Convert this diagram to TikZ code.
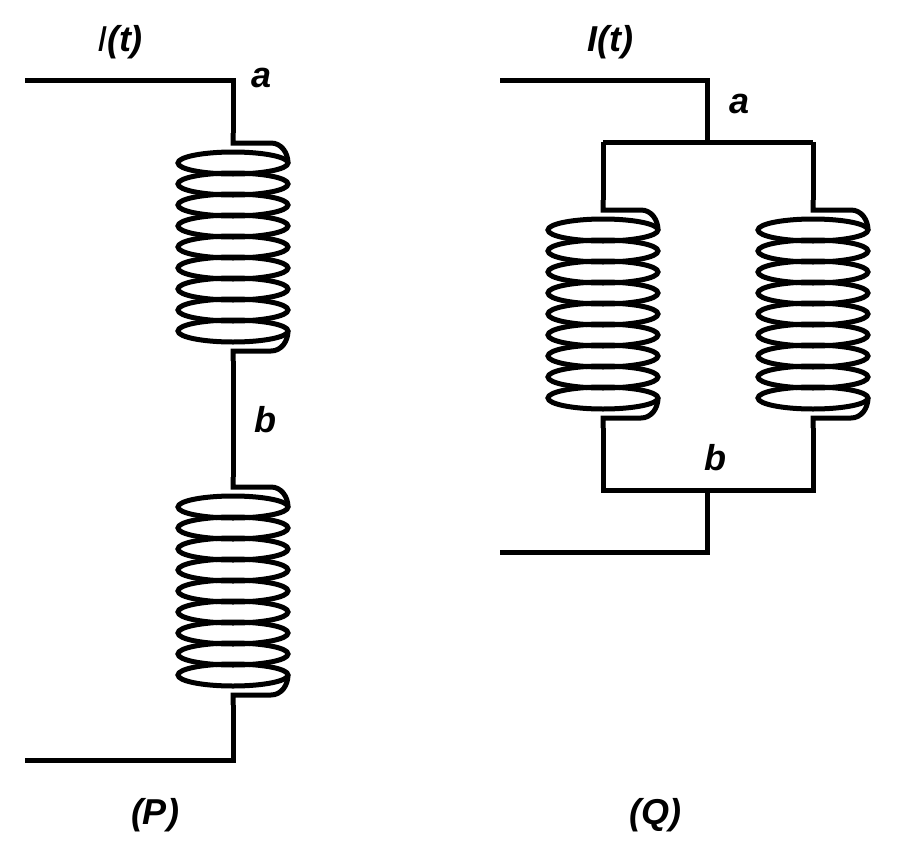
\documentclass[tikz,border=0pt]{standalone}
\usepackage{fontspec}
\setmainfont{Liberation Sans}
\newcommand{\coilat}[3]{% x, top y, name
  \draw[wire] (#1,#2-10) -- (#1,#2) -- (#1+38,#2) to[out=0,in=90] (#1+55,#2+20);
  \foreach \k in {0,...,8}
    \draw[wire] (#1,#2+20+\k*21) ellipse (55 and 11);
  \draw[wire] (#1+55,#2+188) to[out=-90,in=0] (#1+38,#2+208) -- (#1,#2+208) -- (#1,#2+218);
  \coordinate (#3top) at (#1,#2-10);
  \coordinate (#3bot) at (#1,#2+218);
}
\begin{document}
\begin{tikzpicture}[x=1pt,y=-1pt,
  wire/.style={line width=5pt},
  lab/.style={font=\fontsize{36}{40}\selectfont\bfseries\itshape}]
  \useasboundingbox (0,0) rectangle (900,852);

  % (P)
  \coordinate (p0) at (25,80);
  \coordinate (p1) at (233,80);
  \coordinate (p4) at (233,760);
  \coordinate (p5) at (25,760);
  \coilat{233}{143}{ca}
  \coilat{233}{487}{cb}
  \draw[wire] (p0) -- (p1) -- (catop);
  \draw[wire] (cabot) -- (cbtop);
  \draw[wire] (cbbot) -- (p4) -- (p5);
  \node[lab] (ip) at (120,42) {$\mathbf{\mathit{I}}$(\textit{t})};
  \node[lab] (ap) at (262,78) {a};
  \node[lab] (bp) at (265,420) {b};
  \node[lab] (np) at (155,815) {(\textit{P})};

  % (Q)
  \coordinate (q0) at (500,80);
  \coordinate (q1) at (707,80);
  \coordinate (qa) at (707,142);
  \coordinate (qal) at (603,142);
  \coordinate (qar) at (813,142);
  \coordinate (qb) at (707,490);
  \coordinate (qbl) at (603,490);
  \coordinate (qbr) at (813,490);
  \coordinate (q4) at (707,552);
  \coordinate (q5) at (500,552);
  \coilat{603}{210}{cl}
  \coilat{813}{210}{cr}
  \draw[wire] (q0) -- (q1) -- (qa);
  \draw[wire] (qal) -- (qar);
  \draw[wire] (qal) -- (cltop);
  \draw[wire] (qar) -- (crtop);
  \draw[wire] (clbot) -- (qbl) -- (qbr) -- (crbot);
  \draw[wire] (qb) -- (q4) -- (q5);
  \node[lab] (iq) at (610,42) {\textit{I}(\textit{t})};
  \node[lab] (aq) at (740,104) {a};
  \node[lab] (bq) at (715,458) {b};
  \node[lab] (nq) at (655,815) {(\textit{Q})};
\end{tikzpicture}
\end{document}
